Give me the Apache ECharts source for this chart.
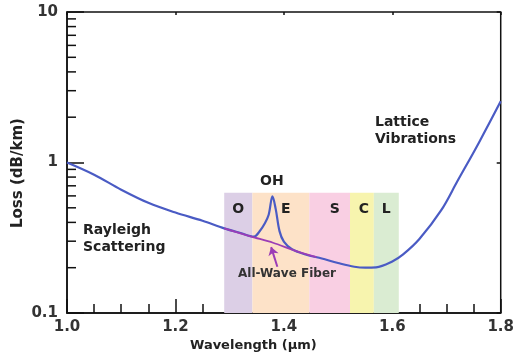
<!DOCTYPE html>
<html>
<head>
<meta charset="utf-8">
<script src="https://cdn.jsdelivr.net/npm/echarts@6/dist/echarts.min.js"></script>
<style>
  html, body { margin: 0; padding: 0; background: #fff; }
  #chart { width: 517px; height: 360px; }
</style>
</head>
<body>
<div id="chart"></div>
<script>
// fibre loss curve (blue)
const wavelength = [1.00, 1.05, 1.10, 1.15, 1.20, 1.25, 1.29, 1.32, 1.345, 1.355, 1.365, 1.372, 1.379, 1.385, 1.392, 1.40, 1.415, 1.44, 1.47, 1.50, 1.53, 1.55, 1.57, 1.60, 1.62, 1.65, 1.69, 1.72, 1.76, 1.80]
const loss = [1.0, 0.83, 0.66, 0.54, 0.465, 0.41, 0.365, 0.34, 0.322, 0.348, 0.395, 0.45, 0.595, 0.49, 0.35, 0.298, 0.265, 0.245, 0.23, 0.215, 0.203, 0.2, 0.201, 0.22, 0.245, 0.31, 0.48, 0.75, 1.36, 2.55]

// All-Wave fibre (no OH peak)
const allWaveWl = [1.29, 1.34, 1.38, 1.42, 1.46]
const allWaveLoss = [0.365, 0.322, 0.293, 0.26, 0.235]

// transmission bands
const bandNames = ["O", "E", "S", "C", "L"]
const bandStart = [1.29, 1.342, 1.447, 1.522, 1.566]
const bandEnd = [1.342, 1.447, 1.522, 1.566, 1.612]
const bandTop = 0.63

// arrow from label to the All-Wave line
const arrowFrom = [1.388, 0.203]
const arrowTo = [1.3765, 0.274]

const xTicks = [1.0, 1.2, 1.4, 1.6, 1.8]
const yMinorTicks = [0.2, 0.3, 0.4, 0.5, 0.6, 0.7, 0.8, 0.9, 2, 3, 4, 5, 6, 7, 8, 9]

const bandColors = ["#dccfe6", "#fde2c8", "#f9cfe3", "#f7f4ae", "#daecd2"]
const bandLabelOffset = [[0, 0], [5, 0], [5, 0], [2, 0], [0, 0]]
const font = "DejaVu Sans"
const blue = "#4a5bc4"
const purple = "#9b3db6"

const chart = echarts.init(document.getElementById("chart"))

const bandData = bandNames.map((n, i) => [
  {
    name: n,
    xAxis: bandStart[i],
    yAxis: bandTop,
    itemStyle: { color: bandColors[i] },
    label: { offset: bandLabelOffset[i] },
  },
  { xAxis: bandEnd[i], yAxis: 0.1 },
])

const txt = (text, x, y, size, color) => ({
  type: "text",
  left: x,
  top: y,
  z: 100,
  style: {
    text: text,
    font: "bold " + size + "px '" + font + "'",
    fill: color || "#222",
  },
})

const option = {
  animation: false,
  grid: {
    left: 67,
    right: 15,
    top: 12,
    bottom: 47,
    show: true,
    borderColor: "#111",
    borderWidth: 1.5,
  },
  xAxis: [
    {
      type: "value",
      min: 1.0,
      max: 1.8,
      interval: 0.2,
      axisLine: { show: true, lineStyle: { color: "#111", width: 1.5 } },
      axisTick: { show: true, inside: true, length: 14, lineStyle: { color: "#111", width: 1.5 } },
      minorTick: { show: true, splitNumber: 4, length: 9, lineStyle: { color: "#111", width: 1.5 } },
      axisLabel: {
        margin: 7,
        color: "#333",
        fontFamily: font,
        fontWeight: "bold",
        fontSize: 15,
        formatter: (v) => (xTicks.some((t) => Math.abs(t - v) < 1e-6) ? v.toFixed(1) : ""),
      },
      splitLine: { show: false },
    },
    {
      type: "value",
      position: "top",
      min: 1.0,
      max: 1.8,
      interval: 0.2,
      axisLine: { show: false },
      axisTick: { show: true, inside: true, length: 3, lineStyle: { color: "#111", width: 1.5 } },
      axisLabel: { show: false },
      splitLine: { show: false },
    },
  ],
  yAxis: [
    {
      type: "log",
      logBase: 10,
      min: 0.1,
      max: 10,
      axisLine: { show: true, lineStyle: { color: "#111", width: 1.5 } },
      axisTick: { show: true, inside: true, length: 17, lineStyle: { color: "#111", width: 1.5 } },
      axisLabel: {
        margin: 9,
        color: "#333",
        fontFamily: font,
        fontWeight: "bold",
        fontSize: 15,
        formatter: (v) => (v < 0.5 ? "0.1" : v < 5 ? "1" : "10"),
      },
      splitLine: { show: false },
    },
    {
      type: "log",
      logBase: 10,
      min: 0.1,
      max: 10,
      position: "right",
      axisLine: { show: false },
      axisTick: { show: true, inside: true, length: 4, lineStyle: { color: "#111", width: 1.5 } },
      axisLabel: { show: false },
      splitLine: { show: false },
    },
  ],
  graphic: [
    txt("Rayleigh", 83, 223, 14),
    txt("Scattering", 83, 240, 14),
    txt("Lattice", 375, 115, 14),
    txt("Vibrations", 375, 132, 14),
    txt("OH", 260, 174, 14),
    txt("All-Wave Fiber", 238, 268, 12, "#333"),
    txt("Wavelength (\u00b5m)", 190, 339, 13),
    {
      type: "text",
      x: 11,
      y: 228,
      z: 100,
      rotation: Math.PI / 2,
      style: { text: "Loss (dB/km)", font: "bold 15px '" + font + "'", fill: "#222" },
    },
  ],
  series: [
    {
      name: "bands",
      type: "line",
      data: [],
      z: 1,
      silent: true,
      markArea: {
        silent: true,
        label: {
          show: true,
          position: "insideTop",
          distance: 10,
          color: "#222",
          fontFamily: font,
          fontWeight: "bold",
          fontSize: 14,
        },
        data: bandData,
      },
    },
    {
      name: "minor",
      type: "custom",
      silent: true,
      z: 5,
      data: yMinorTicks.map((v) => [1.0, v]),
      renderItem: (params, api) => {
        const p = api.coord([api.value(0), api.value(1)])
        return {
          type: "line",
          shape: { x1: p[0], y1: p[1], x2: p[0] + 9, y2: p[1] },
          style: { stroke: "#111", lineWidth: 1.5 },
        }
      },
    },
    {
      name: "Loss",
      type: "line",
      z: 3,
      data: wavelength.map((w, i) => [w, loss[i]]),
      showSymbol: false,
      smooth: 0.35,
      lineStyle: { color: blue, width: 2.2 },
    },
    {
      name: "All-Wave",
      type: "line",
      z: 4,
      data: allWaveWl.map((w, i) => [w, allWaveLoss[i]]),
      showSymbol: false,
      smooth: 0.3,
      lineStyle: { color: purple, width: 1.8 },
      markLine: {
        silent: true,
        symbol: ["none", "arrow"],
        symbolSize: 8,
        label: { show: false },
        lineStyle: { color: purple, width: 2, type: "solid" },
        data: [[{ coord: arrowFrom }, { coord: arrowTo }]],
      },
    },
  ],
}
chart.setOption(option)
</script>
</body>
</html>
